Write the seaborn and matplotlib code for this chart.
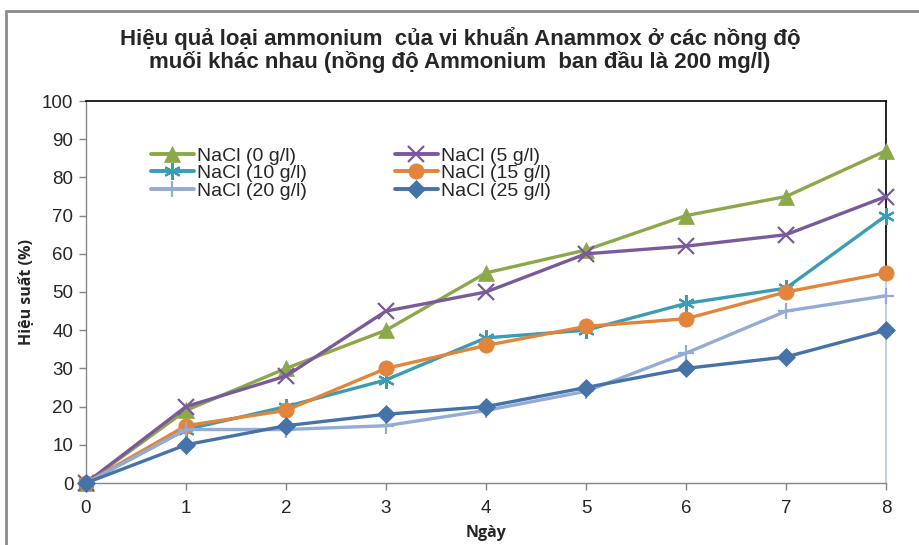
import matplotlib
matplotlib.use("Agg")
import matplotlib.pyplot as plt
import seaborn as sns
import pandas as pd
from matplotlib.lines import Line2D

days = [0, 1, 2, 3, 4, 5, 6, 7, 8]
series_names = ["NaCl (0 g/l)", "NaCl (5 g/l)", "NaCl (10 g/l)",
                "NaCl (15 g/l)", "NaCl (20 g/l)", "NaCl (25 g/l)"]
nacl_0 = [0, 19, 30, 40, 55, 61, 70, 75, 87]
nacl_5 = [0, 20, 28, 45, 50, 60, 62, 65, 75]
nacl_10 = [0, 14, 20, 27, 38, 40, 47, 51, 70]
nacl_15 = [0, 15, 19, 30, 36, 41, 43, 50, 55]
nacl_20 = [0, 14, 14, 15, 19, 24, 34, 45, 49]
nacl_25 = [0, 10, 15, 18, 20, 25, 30, 33, 40]
y_ticks = [0, 10, 20, 30, 40, 50, 60, 70, 80, 90, 100]
x_ticks = [0, 1, 2, 3, 4, 5, 6, 7, 8]

values = [nacl_0, nacl_5, nacl_10, nacl_15, nacl_20, nacl_25]
colors = ["#8BA84A", "#7A5A9B", "#3A9DB4", "#E2843A", "#94ABD5", "#4572A7"]
markers = ["^", "x", (6, 2, 0), "o", "+", "D"]
msizes = [11, 11, 12, 11, 12, 9]
medges = [0, 1.6, 1.6, 0, 1.6, 0]

sns.set_theme(style="white")
plt.rcParams['font.family'] = ['Liberation Sans', 'DejaVu Sans']

fig = plt.figure(figsize=(9.2, 5.45), dpi=100)
ax = fig.add_axes([86/920, 1-483/545, 800/920, 382/545])

rows = []
for name, vals in zip(series_names, values):
    for d, v in zip(days, vals):
        rows.append({"Ngày": d, "val": v, "series": name})
df = pd.DataFrame(rows)

handles = []
for name, c, m, ms, me in zip(series_names, colors, markers, msizes, medges):
    sub = df[df["series"] == name]
    kw = dict(marker=m, markersize=ms, markerfacecolor=c, markeredgecolor=c,
              markeredgewidth=me if me else 0.5)
    sns.lineplot(data=sub, x="Ngày", y="val", ax=ax, color=c, linewidth=2.4,
                 legend=False, clip_on=False, zorder=3, **kw)
    handles.append(Line2D([0], [0], color=c, linewidth=2.8, **kw))

ax.set_xlim(0, 8)
ax.set_ylim(0, 100)
ax.set_xticks(x_ticks)
ax.set_yticks(y_ticks)
ax.tick_params(axis="both", which="both", labelsize=13.5, length=5, width=1,
               color="#868686", direction="out", pad=4)
ax.tick_params(axis="x", bottom=True, pad=7)
ax.tick_params(axis="y", left=True)

for s in ["left", "bottom"]:
    ax.spines[s].set_color("#868686")
    ax.spines[s].set_linewidth(1)
ax.spines["top"].set_color("black")
ax.spines["top"].set_linewidth(1.2)
ax.spines["right"].set_visible(False)
ax.axvline(8, ymin=0.55, ymax=1, color="black", linewidth=1.2, zorder=1, clip_on=False)
ax.axvline(8, ymin=0, ymax=0.55, color="#B7C6E4", linewidth=1.2, zorder=1, clip_on=False)

ax.set_xlabel("Ngày", fontsize=11.5, fontweight="bold", family=["Open Sans", "DejaVu Sans"],
              labelpad=6)
ax.set_ylabel("Hiệu suất (%)", fontsize=11.5, fontweight="bold",
              family=["Open Sans", "DejaVu Sans"], labelpad=5)

order = [0, 2, 4, 1, 3, 5]
leg = ax.legend([handles[i] for i in order], [series_names[i] for i in order],
                ncol=2, loc="upper left",
                bbox_to_anchor=(57/800, 0.9), frameon=False, fontsize=14,
                handlelength=2.2, handletextpad=0.2, labelspacing=0.0,
                columnspacing=4.5, borderaxespad=0)

fig.text(0.5, 1-50/545, "Hiệu quả loại ammonium  của vi khuẩn Anammox ở các nồng độ\n"
         "muối khác nhau (nồng độ Ammonium  ban đầu là 200 mg/l)",
         ha="center", va="center", fontsize=16, fontweight="bold",
         family=["Liberation Sans", "DejaVu Sans"],
         linespacing=1.1)

# outer chart-area frame (top and left edges visible)
fig.add_artist(Line2D([6.5/920, 1], [1-10.5/545, 1-10.5/545], transform=fig.transFigure,
                      color="#8C8C8C", linewidth=2))
fig.add_artist(Line2D([6.5/920, 6.5/920], [0, 1-10.5/545], transform=fig.transFigure,
                      color="#8C8C8C", linewidth=2))

fig.savefig("out.png", dpi=100)
